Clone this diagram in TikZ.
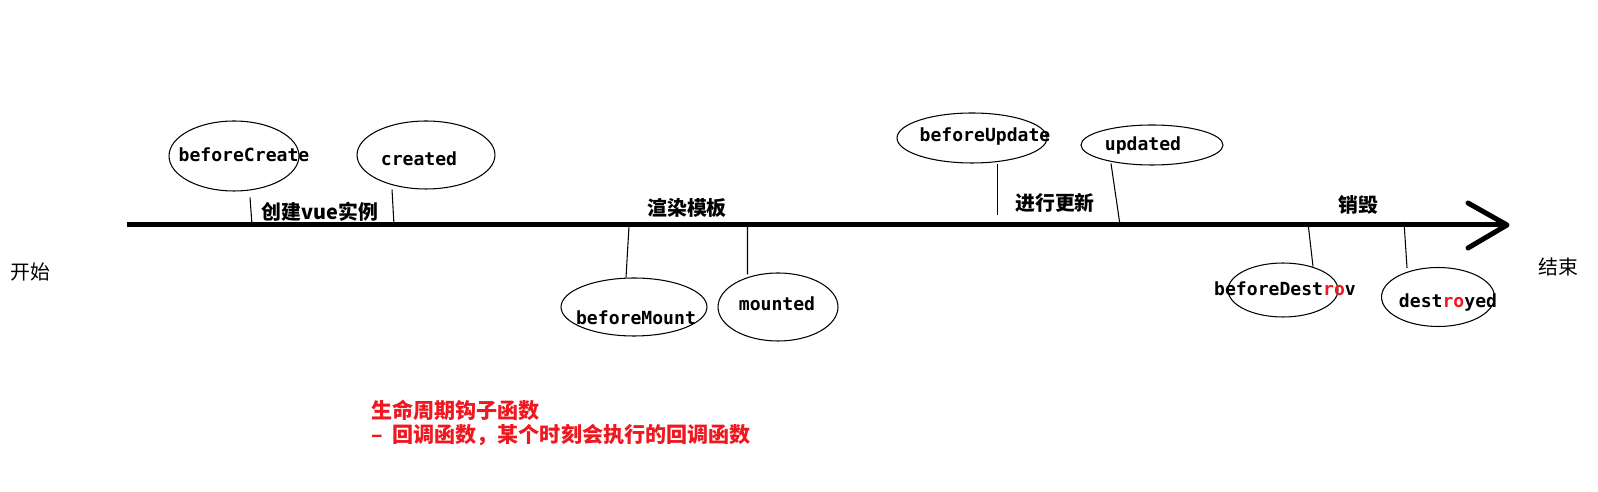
\documentclass[tikz,border=0pt]{standalone}
\usepackage{fontspec}
\setmonofont{DejaVu Sans Mono}
\newfontfamily\cjk{Noto Sans CJK SC}
\usepackage{xcolor}
\usetikzlibrary{shapes.geometric, calc}
\definecolor{hookred}{RGB}{240,24,32}

\begin{document}
\begin{tikzpicture}[x=0.02cm, y=-0.02cm,
    hook/.style={ellipse, draw, line width=0.6pt, inner sep=0pt},
    hookname/.style={font=\fontsize{10.3}{12}\selectfont\ttfamily\bfseries, inner sep=0pt},
    stage/.style={font=\fontsize{11.3}{13}\selectfont\cjk\bfseries, inner sep=0pt},
    ends/.style={font=\fontsize{11.3}{13}\selectfont\cjk, inner sep=0pt},
    note/.style={font=\fontsize{12}{14}\selectfont\cjk\bfseries, text=hookred, inner sep=0pt, anchor=west},
    tick/.style={line width=0.6pt},
    axis/.style={line width=0.1cm}]
  \useasboundingbox (0,0) rectangle (1598,492);

  \coordinate (t0) at (127,225);
  \coordinate (t1) at (1507,225);
  \coordinate (hu) at (1468,203);
  \coordinate (hl) at (1468,248);
  \draw[axis] (t0) -- (t1);
  \draw[axis, line cap=round, line join=round] (hu) -- (t1) -- (hl);

  \node[ends] (start) at (30,272) {开始};
  \node[ends] (finish) at (1558,267) {结束};

  \node[stage] (create) at (320,212) {创建vue实例};
  \node[stage] (render) at (687,208) {渲染模板};
  \node[stage] (update) at (1055,203) {进行更新};
  \node[stage] (destroy) at (1358,205) {销毁};

  \node[hook, minimum width=2.6cm, minimum height=1.4cm] (bc) at (234,156) {};
  \node[hook, minimum width=2.76cm, minimum height=1.36cm] (cr) at (426,155) {};
  \node[hook, minimum width=2.92cm, minimum height=1.16cm] (bm) at (634,307) {};
  \node[hook, minimum width=2.4cm, minimum height=1.36cm] (mt) at (778,307) {};
  \node[hook, minimum width=3.0cm, minimum height=1.0cm] (bu) at (972,138) {};
  \node[hook, minimum width=2.84cm, minimum height=0.8cm] (up) at (1152,145) {};
  \node[hook, minimum width=2.2cm, minimum height=1.08cm] (bd) at (1283,290) {};
  \node[hook, minimum width=2.26cm, minimum height=1.18cm] (ds) at (1438,297) {};

  \node[hookname] (bc-t) at (244,155) {beforeCreate};
  \node[hookname] (cr-t) at (419,159) {created};
  \node[hookname] (bm-t) at (636,318) {beforeMount};
  \node[hookname] (mt-t) at (777,304) {mounted};
  \node[hookname] (bu-t) at (985,137) {beforeUpdate};
  \node[hookname] (up-t) at (1143,146) {updated};
  \node[hookname] (bd-t) at (1285,289) {beforeDest\textcolor{hookred}{ro}v};
  \node[hookname] (ds-t) at (1448,303) {dest\textcolor{hookred}{ro}yed};

  \coordinate (bc-a) at (252,225);
  \coordinate (cr-a) at (394,225);
  \coordinate (bm-a) at (629,226);
  \coordinate (mt-a) at (747.5,223);
  \coordinate (bu-a) at (997.5,215);
  \coordinate (up-a) at (1120,225);
  \coordinate (bd-a) at (1308,223);
  \coordinate (ds-a) at (1404,222);
  \draw[tick] ([shift={(16,6)}]bc.south) -- (bc-a);
  \draw[tick] ([shift={(-34,0)}]cr.south) -- (cr-a);
  \draw[tick] (bm-a) -- ([shift={(-8,0)}]bm.north);
  \draw[tick] (mt-a) -- ([shift={(-30.5,2)}]mt.north);
  \draw[tick] ([shift={(25.5,0)}]bu.south) -- (bu-a);
  \draw[tick] ([shift={(-41,-2)}]up.south) -- (up-a);
  \draw[tick] (bd-a) -- ([shift={(30,4)}]bd.north);
  \draw[tick] (ds-a) -- ([shift={(-31,1)}]ds.north);

  \node[note] (note1) at (371,410) {生命周期钩子函数};
  \node[note] (note2) at (371,435) {–\hspace{0.45em}回调函数，某个时刻会执行的回调函数};
\end{tikzpicture}
\end{document}
